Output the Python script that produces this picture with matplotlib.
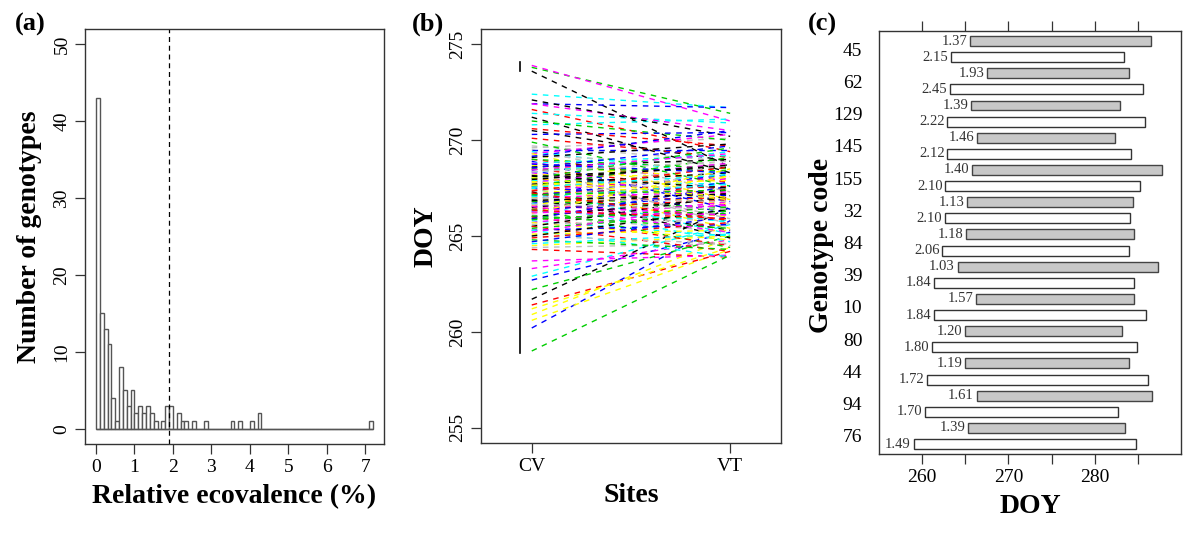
import matplotlib
matplotlib.use("Agg")
import matplotlib.pyplot as plt
import numpy as np

plt.rcParams['font.family'] = ['Liberation Serif', 'DejaVu Serif']

# (a) histogram of relative ecovalence, bin width 0.1
bin_left = [0.0, 0.1, 0.2, 0.3, 0.4, 0.5, 0.6, 0.7, 0.8, 0.9, 1.0, 1.1, 1.2, 1.3,
            1.4, 1.5, 1.7, 1.8, 1.9, 2.1, 2.2, 2.3, 2.5, 2.8, 3.5, 3.7, 4.0, 4.2, 7.1]
bin_count = [43, 15, 13, 11, 4, 1, 8, 5, 3, 5, 2, 3, 2, 3,
             2, 1, 1, 3, 3, 2, 1, 1, 1, 1, 1, 1, 1, 2, 1]
eco_cut = 1.887

# (b) DOY at the two sites per genotype
doy_cv = [273.6, 264.3, 273.8, 260.2, 262.9, 273.9, 260.6, 269.7,
          261.7, 261.4, 259.0, 262.7, 272.4, 263.7, 260.9, 269.6,
          271.2, 271.6, 262.2, 271.9, 270.8, 263.3, 261.2, 269.5,
          270.5, 270.1, 271.0, 270.3, 271.4, 271.9, 264.5, 264.4,
          272.1, 270.6, 269.9,
          269.5, 269.4, 269.3, 269.3, 269.2, 269.1, 269.0,
          269.0, 268.9, 268.8, 268.8, 268.7, 268.6, 268.6, 268.5, 268.5, 268.4,
          268.3, 268.3, 268.2, 268.2, 268.1, 268.0, 268.0, 267.9, 267.9, 267.8,
          267.8, 267.7, 267.7, 267.6, 267.6, 267.5, 267.5, 267.4, 267.4, 267.3,
          267.3, 267.2, 267.2, 267.1, 267.1, 267.0, 267.0, 266.9, 266.9, 266.8,
          266.8, 266.7, 266.7, 266.6, 266.6, 266.5, 266.5, 266.4, 266.4, 266.3,
          266.3, 266.2, 266.2, 266.1, 266.0, 266.0, 265.9, 265.9, 265.8, 265.7,
          265.7, 265.6, 265.5, 265.5, 265.4, 265.3, 265.3, 265.2, 265.1, 265.0,
          265.0, 264.9, 264.8, 264.7, 264.6, 268.45, 267.65, 266.95, 268.15, 267.35,
          266.05, 268.75, 267.05, 266.55, 267.85, 268.35, 266.85, 267.25, 265.85, 269.15,
          267.55, 266.25, 268.05, 266.65, 267.95, 266.35, 267.15, 268.55]
doy_vt = [268.6, 263.9, 271.4, 265.8, 265.6, 271.0, 264.3, 268.9,
          266.5, 264.2, 264.0, 265.2, 271.7, 264.0, 264.9, 270.1,
          268.3, 269.4, 265.0, 271.7, 271.1, 264.8, 264.4, 267.3,
          268.9, 269.1, 270.0, 270.4, 270.9, 270.5, 265.0, 264.6,
          270.2, 269.7, 267.6,
          269.5, 268.2, 270.3, 266.9, 268.7, 269.8, 267.8,
          268.5, 266.4, 269.2, 267.9, 268.0, 265.6, 269.0, 267.4, 268.4, 266.8,
          269.4, 267.0, 268.1, 265.9, 268.6, 267.2, 269.6, 266.2, 267.7, 268.8,
          265.4, 267.5, 268.3, 266.6, 269.1, 267.1, 265.1, 268.0, 266.7, 268.7,
          264.9, 267.6, 266.3, 268.2, 265.7, 267.3, 266.0, 268.4, 265.3, 267.0,
          266.5, 267.8, 264.7, 266.1, 268.1, 265.5, 267.4, 266.9, 264.4, 267.2,
          265.8, 266.6, 268.5, 265.2, 267.0, 264.5, 266.3, 267.6, 265.0, 266.8,
          264.8, 265.9, 267.1, 264.2, 266.2, 265.6, 263.9, 266.7, 265.3, 264.6,
          266.4, 265.7, 264.3, 266.0, 265.1, 269.3, 267.9, 266.8, 267.5, 268.6,
          265.4, 268.3, 267.7, 265.2, 266.9, 268.9, 267.2, 265.8, 266.5, 270.5,
          268.2, 266.1, 267.0, 266.4, 268.7, 265.9, 267.4, 269.7]
sites = ['CV', 'VT']
r_palette = ['black', '#FF0000', '#00CD00', '#0000FF', '#00FFFF', '#FF00FF', '#FFFF00', '#BEBEBE']

# (c) DOY ranges for selected genotypes (gray / white pair per genotype)
genotypes = ['45', '62', '129', '145', '155', '32', '84', '39', '10', '80', '44', '94', '76']
gray_start = [265.5, 267.5, 265.7, 266.3, 265.8, 265.2, 265.1, 264.1, 266.2, 265.0, 265.0, 266.3, 265.3]
gray_end = [286.5, 284.0, 282.9, 282.4, 287.8, 284.4, 284.6, 287.3, 284.5, 283.2, 284.0, 286.6, 283.5]
gray_lab = ['1.37', '1.93', '1.39', '1.46', '1.40', '1.13', '1.18', '1.03', '1.57', '1.20', '1.19', '1.61', '1.39']
white_start = [263.3, 263.2, 262.9, 262.9, 262.7, 262.6, 262.3, 261.4, 261.4, 261.1, 260.6, 260.3, 259.0]
white_end = [283.4, 285.6, 285.8, 284.2, 285.3, 284.1, 284.0, 284.6, 285.9, 284.9, 286.2, 282.7, 284.8]
white_lab = ['2.15', '2.45', '2.22', '2.12', '2.10', '2.10', '2.06', '1.84', '1.84', '1.80', '1.72', '1.70', '1.49']

fig = plt.figure(figsize=(12, 5.34), dpi=100)
frame_col = '#333333'

def style_frame(ax):
    for s in ax.spines.values():
        s.set_color(frame_col)
        s.set_linewidth(1.0)
    ax.tick_params(direction='out', length=7, width=0.9, color=frame_col, labelsize=14)

# ---- (a)
ax1 = fig.add_axes([0.0708, 0.1685, 0.2492, 0.7772])
counts = np.zeros(72)
for b, c in zip(bin_left, bin_count):
    counts[int(round(b * 10))] = c
edges = np.arange(72) / 10
ax1.bar(edges, counts, width=0.1, align='edge', facecolor='white', edgecolor='#555555', linewidth=1.0)
ax1.hlines(0, 0, 7.2, color='#555555', linewidth=1.0)
ax1.axvline(eco_cut, color='black', linestyle=(0, (4, 3)), linewidth=0.9)
ax1.set_xlim(-0.288, 7.488)
ax1.set_ylim(-2, 52)
ax1.set_xticks(range(8))
ax1.set_yticks(range(0, 51, 10))
style_frame(ax1)
plt.setp(ax1.get_yticklabels(), rotation=90, va='center')
ax1.set_xlabel('Relative ecovalence (%)', fontsize=20, fontweight='bold', labelpad=6)
ax1.set_ylabel('Number of genotypes', fontsize=20, fontweight='bold', labelpad=8)
fig.text(0.012, 0.955, '(a)', fontsize=19, fontweight='bold', va='center')

# ---- (b)
ax2 = fig.add_axes([0.4008, 0.1704, 0.25, 0.7753])
for i, (a, b) in enumerate(zip(doy_cv, doy_vt)):
    ax2.plot([1, 2], [a, b], color=r_palette[i % 8], linestyle=(0, (4, 4)), linewidth=1.0)
ax2.plot([0.94, 0.94], [273.6, 274.06], color='black', linewidth=1.2)
ax2.plot([0.94, 0.94], [258.9, 263.35], color='black', linewidth=1.2)
ax2.set_xlim(0.744, 2.256)
ax2.set_ylim(254.2, 275.8)
ax2.set_xticks([1, 2])
ax2.set_xticklabels(sites)
ax2.set_yticks(range(255, 276, 5))
style_frame(ax2)
plt.setp(ax2.get_yticklabels(), rotation=90, va='center')
ax2.set_xlabel('Sites', fontsize=20, fontweight='bold', labelpad=6)
ax2.set_ylabel('DOY', fontsize=20, fontweight='bold', labelpad=8)
fig.text(0.343, 0.955, '(b)', fontsize=19, fontweight='bold', va='center')

# ---- (c)
ax3 = fig.add_axes([0.7325, 0.1498, 0.2517, 0.7921])
n = len(genotypes)
y_gray = [2 * (n - i) for i in range(n)]
y_white = [2 * (n - i) - 1 for i in range(n)]
ax3.barh(y_gray, np.array(gray_end) - np.array(gray_start), left=gray_start, height=0.62,
         facecolor='#C8C8C8', edgecolor='#444444', linewidth=1.0)
ax3.barh(y_white, np.array(white_end) - np.array(white_start), left=white_start, height=0.62,
         facecolor='white', edgecolor='#333333', linewidth=1.0)
for y, x, t in zip(y_gray, gray_start, gray_lab):
    ax3.text(x - 0.3, y, t, ha='right', va='center', fontsize=10.5, color='#333333')
for y, x, t in zip(y_white, white_start, white_lab):
    ax3.text(x - 0.3, y, t, ha='right', va='center', fontsize=10.5, color='#333333')
ax3.set_xlim(255, 290)
ax3.set_ylim(0.38, 26.62)
ax3.set_xticks(range(260, 286, 5))
ax3.set_xticklabels(['260', '', '270', '', '280', ''])
ax3.set_yticks([y - 0.5 for y in y_gray])
ax3.set_yticklabels(genotypes)
style_frame(ax3)
ax3.tick_params(axis='x', top=True)
ax3.tick_params(axis='y', length=0, pad=12, labelsize=14)
ax3.set_xlabel('DOY', fontsize=20, fontweight='bold', labelpad=6)
ax3.set_ylabel('Genotype code', fontsize=20, fontweight='bold')
ax3.yaxis.set_label_coords(-0.15, 0.494)
fig.text(0.673, 0.955, '(c)', fontsize=19, fontweight='bold', va='center')

fig.savefig('out.png', dpi=100)
